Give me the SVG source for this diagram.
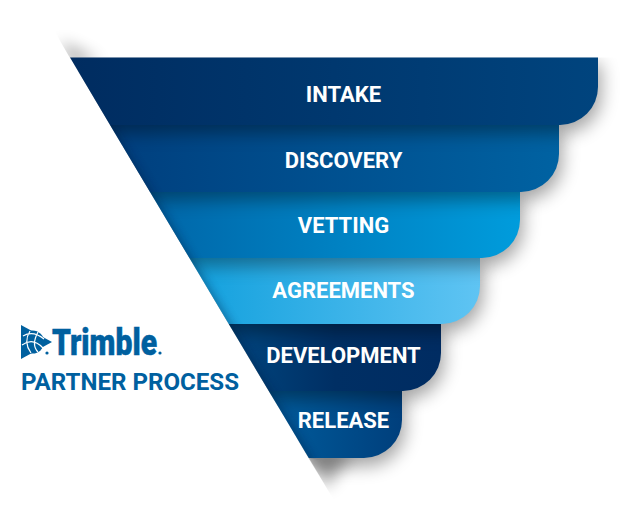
<svg xmlns="http://www.w3.org/2000/svg" width="640" height="521" viewBox="0 0 640 521">
<style>
.lbl{font-family:Roboto,"Liberation Sans",sans-serif;font-weight:700;font-size:22px;fill:#fff;text-anchor:middle}
.shadow{fill:#000;opacity:.36;filter:url(#blur)}
</style>
<defs>
<filter id="blur" x="-20%" y="-50%" width="140%" height="200%"><feGaussianBlur stdDeviation="9"/></filter>
<filter id="blur2" x="-20%" y="-20%" width="140%" height="140%"><feGaussianBlur stdDeviation="5"/></filter>
<filter id="blur3" x="-80%" y="-80%" width="260%" height="260%"><feGaussianBlur stdDeviation="8"/></filter>
<clipPath id="funnel"><polygon points="70,57.6 640,57.6 640,521 346,521"/></clipPath>
<clipPath id="lower"><polygon points="110,125 640,125 640,521 309,458"/></clipPath>
<clipPath id="topw"><polygon points="42,10 70,58 200,58 200,10"/></clipPath>
<clipPath id="botw"><polygon points="309,458 346,521 460,521 460,458"/></clipPath>
<linearGradient id="g1" x1="0" x2="1" y1="0" y2="0"><stop offset="0" stop-color="#002c60"/><stop offset="1" stop-color="#00447e"/></linearGradient>
<linearGradient id="g2" x1="0" x2="1" y1="0" y2="0"><stop offset="0" stop-color="#003f7e"/><stop offset="1" stop-color="#0062a2"/></linearGradient>
<linearGradient id="g3" x1="0" x2="1" y1="0" y2="0"><stop offset="0" stop-color="#0066a8"/><stop offset="1" stop-color="#009cdc"/></linearGradient>
<linearGradient id="g4" x1="0" x2="1" y1="0" y2="0"><stop offset="0" stop-color="#12a0dd"/><stop offset="1" stop-color="#5fc4f3"/></linearGradient>
<linearGradient id="g5" x1="0" x2="1" y1="0" y2="0"><stop offset="0" stop-color="#00467f"/><stop offset=".5" stop-color="#002f64"/><stop offset="1" stop-color="#002c62"/></linearGradient>
<linearGradient id="g6" x1="0" x2="1" y1="0" y2="0"><stop offset="0" stop-color="#005c9c"/><stop offset="1" stop-color="#003f7c"/></linearGradient>
</defs>

<g clip-path="url(#topw)"><polygon points="60,42 70,62 100,62" fill="#000" opacity=".4" filter="url(#blur3)"/></g>
<g clip-path="url(#botw)"><polygon points="305,452 326,488 352,452" fill="#000" opacity=".35" filter="url(#blur3)"/></g>

<g id="release">
<path clip-path="url(#funnel)" class="shadow" d="M300,396H405V428A38,38 0 0 1 367,466H300Z"/>
<path fill="url(#g6)" d="M268.800,391H402V420A38,38 0 0 1 364,458H308.800Z"/>
</g>
<g id="development">
<path clip-path="url(#funnel)" class="shadow" d="M240,330H444V361A38,38 0 0 1 406,399H240Z"/>
<path fill="url(#g5)" d="M228.800,324H441V353A38,38 0 0 1 403,391H268.800Z"/>
</g>
<g id="agreements">
<path clip-path="url(#funnel)" class="shadow" d="M200,264H483V294A38,38 0 0 1 445,332H200Z"/>
<path fill="url(#g4)" d="M189.400,258H480V286A38,38 0 0 1 442,324H228.800Z"/>
</g>
<g id="vetting">
<path clip-path="url(#funnel)" class="shadow" d="M160,198H523V228A38,38 0 0 1 485,266H160Z"/>
<path fill="url(#g3)" d="M150,192H520V220A38,38 0 0 1 482,258H189.400Z"/>
</g>
<g id="discovery">
<path clip-path="url(#funnel)" class="shadow" d="M120,131H562V162A38,38 0 0 1 524,200H120Z"/>
<path fill="url(#g2)" d="M110,125H559V154A38,38 0 0 1 521,192H150Z"/>
</g>
<g id="intake">
<path clip-path="url(#funnel)" class="shadow" d="M80,64H601V95A38,38 0 0 1 563,133H80Z"/>
<path fill="url(#g1)" d="M70,57.600H598V87A38,38 0 0 1 560,125H110Z"/>
</g>

<g clip-path="url(#lower)"><path d="M100,115L310,465" fill="none" stroke="#001a40" stroke-width="10" opacity=".4" filter="url(#blur2)"/></g>

<text class="lbl" x="343.500" y="101.500">INTAKE</text>
<text class="lbl" x="343.500" y="167.500">DISCOVERY</text>
<text class="lbl" x="343.500" y="232.500">VETTING</text>
<text class="lbl" x="343.500" y="297.500">AGREEMENTS</text>
<text class="lbl" x="343.500" y="362.500">DEVELOPMENT</text>
<text class="lbl" x="343.500" y="428">RELEASE</text>

<g id="logo">
<polygon points="21,325 52,342 21,359" fill="#00609f"/>
<circle cx="32.500" cy="342" r="11.500" fill="#00609f"/>
<path d="M23,336Q33,330 44,339M22,345Q33,337 43,348M30,331Q23,342 31,353M38,332Q31,345 38,352" fill="none" stroke="#fff" stroke-width="1.200"/>
<text x="52" y="354.500" font-family="Roboto,'Liberation Sans',sans-serif" font-weight="900" font-size="36.500" fill="#00609f" stroke="#00609f" stroke-width=".5" textLength="105" lengthAdjust="spacingAndGlyphs">Trimble</text>
<circle cx="47" cy="353" r="1.600" fill="#00609f"/>
<circle cx="160" cy="353" r="1.600" fill="#00609f"/>
<text x="21" y="389.500" font-family="Roboto,'Liberation Sans',sans-serif" font-weight="700" font-size="23.500" fill="#00609f" textLength="218" lengthAdjust="spacingAndGlyphs">PARTNER PROCESS</text>
</g>
</svg>
